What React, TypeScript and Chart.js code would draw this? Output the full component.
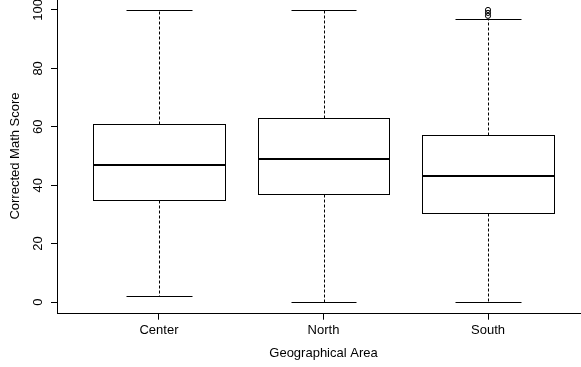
import { useEffect, useRef } from "react";
import { Chart, registerables } from "chart.js";
Chart.register(...registerables);

const categories = ["Center", "North", "South"];
const whiskerLow = [2, 0, 0];
const q1 = [35, 37, 30.5];
const medians = [47, 49, 43];
const q3 = [61, 63, 57.3];
const whiskerHigh = [100, 100, 97];
const outlierValues: number[][] = [[], [], [98, 99, 100]];
const yTicks = [0, 20, 40, 60, 80, 100];

const FONT = "'Liberation Sans', Arial, Helvetica, sans-serif";
const CW = 620;
const CH = 387;
const OFFSET_TOP = -20;

const boxPlugin = {
  id: "rboxes",
  beforeDatasetsDraw(chart: any) {
    const { ctx } = chart;
    const x = chart.scales.x;
    const y = chart.scales.y;
    const px = (v: number) => Math.round(x.getPixelForValue(v)) + 0.5;
    const py = (v: number) => Math.round(y.getPixelForValue(v)) + 0.5;
    ctx.save();
    categories.forEach((_c, i) => {
      const pos = i + 1;
      const cx = px(pos);
      const l = px(pos - 0.4);
      const r = px(pos + 0.4);
      const sl = px(pos - 0.2);
      const sr = px(pos + 0.2);
      ctx.strokeStyle = "#000";
      ctx.lineWidth = 1;
      // whiskers
      ctx.setLineDash([3, 2]);
      ctx.beginPath();
      ctx.moveTo(cx, py(q3[i]));
      ctx.lineTo(cx, py(whiskerHigh[i]));
      ctx.moveTo(cx, py(q1[i]));
      ctx.lineTo(cx, py(whiskerLow[i]));
      ctx.stroke();
      ctx.setLineDash([]);
      // staples
      ctx.beginPath();
      ctx.moveTo(sl, py(whiskerHigh[i]));
      ctx.lineTo(sr, py(whiskerHigh[i]));
      ctx.moveTo(sl, py(whiskerLow[i]));
      ctx.lineTo(sr, py(whiskerLow[i]));
      ctx.stroke();
      // box
      const top = py(q3[i]);
      const bot = py(q1[i]);
      ctx.fillStyle = "#fff";
      ctx.fillRect(l, top, r - l, bot - top);
      ctx.strokeRect(l, top, r - l, bot - top);
      // median
      const my = Math.round(y.getPixelForValue(medians[i]));
      ctx.lineWidth = 2;
      ctx.beginPath();
      ctx.moveTo(l - 0.5, my);
      ctx.lineTo(r + 0.5, my);
      ctx.stroke();
    });
    ctx.restore();
  },
};

export default function App() {
  const ref = useRef<HTMLCanvasElement>(null);
  useEffect(() => {
    if (!ref.current) return;
    const outlierData: { x: number; y: number }[] = [];
    outlierValues.forEach((vals, i) => vals.forEach((v) => outlierData.push({ x: i + 1, y: v })));
    const chart = new Chart(ref.current, {
      type: "scatter",
      data: {
        datasets: [
          {
            data: outlierData,
            pointStyle: "circle",
            pointRadius: 2.6,
            pointBorderWidth: 1,
            pointBorderColor: "#000",
            pointBackgroundColor: "rgba(0,0,0,0)",
          },
        ],
      },
      options: {
        animation: false,
        responsive: false,
        devicePixelRatio: 1,
        layout: { padding: { left: 0, right: 30, top: 18.3, bottom: 0 } },
        plugins: { legend: { display: false }, tooltip: { enabled: false } },
        scales: {
          x: {
            type: "linear",
            min: 0.38,
            max: 3.62,
            afterBuildTicks: (s: any) => {
              s.ticks = categories.map((_c, i) => ({ value: i + 1 }));
            },
            afterFit: (s: any) => {
              s.height = 53.3;
            },
            grid: { display: true, drawOnChartArea: false, drawTicks: true, tickLength: 6, color: "#000", lineWidth: 1 },
            border: { display: true, color: "#000", width: 1 },
            ticks: {
              color: "#000",
              font: { family: FONT, size: 13 },
              padding: 3,
              maxRotation: 0,
              minRotation: 0,
              autoSkip: false,
              callback: (v: any) => categories[Math.round(Number(v)) - 1] ?? "",
            },
            title: {
              display: true,
              text: "Geographical Area",
              color: "#000",
              font: { family: FONT, size: 13 },
              padding: { top: 0, bottom: 6.2 },
            },
          },
          y: {
            type: "linear",
            min: -4,
            max: 104,
            afterBuildTicks: (s: any) => {
              s.ticks = yTicks.map((v) => ({ value: v }));
            },
            afterFit: (s: any) => {
              s.width = 57;
            },
            grid: { display: true, drawOnChartArea: false, drawTicks: true, tickLength: 6, color: "#000", lineWidth: 1 },
            border: { display: true, color: "#000", width: 1 },
            ticks: {
              color: "#000",
              font: { family: FONT, size: 13 },
              padding: 2,
              minRotation: 90,
              maxRotation: 90,
              crossAlign: "center",
              autoSkip: false,
              callback: (v: any) => String(v),
            },
            title: {
              display: true,
              text: "Corrected Math Score",
              color: "#000",
              font: { family: FONT, size: 13 },
              padding: { top: 7.2, bottom: 0 },
            },
          },
        },
      },
      plugins: [boxPlugin],
    } as any);
    return () => chart.destroy();
  }, []);
  return (
    <div
      style={{
        position: "fixed",
        left: 0,
        top: 0,
        width: 581,
        height: 367,
        overflow: "hidden",
        background: "#fff",
      }}
    >
      <canvas
        ref={ref}
        width={CW}
        height={CH}
        style={{ position: "absolute", left: 0, top: OFFSET_TOP, width: CW, height: CH }}
      />
    </div>
  );
}
